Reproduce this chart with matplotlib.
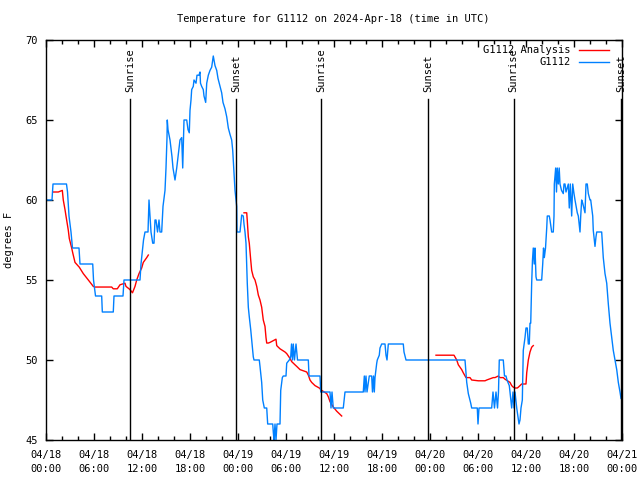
import datetime as dt
import matplotlib
matplotlib.use("Agg")
import matplotlib.pyplot as plt
import matplotlib.dates as mdates

plt.rcParams['font.family'] = ['DejaVu Sans Mono']
plt.rcParams['font.size'] = 7.5

START = dt.datetime(2024, 4, 18, 0, 0)

# G1112 observations: hours after 04/18 00:00 UTC, degrees F
obs_hours = [
    0.0, 0.75, 0.875, 2.56, 2.69, 2.875, 3.125, 3.31, 4.125, 4.25, 5.84, 5.94,
    6.19, 6.96, 7.04, 8.41, 8.5, 9.625, 9.75, 11.75, 11.875, 12.19, 12.375, 12.75,
    12.875, 13.0, 13.125, 13.34, 13.5, 13.625, 13.75, 13.94, 14.125, 14.25, 14.46,
    14.625, 14.875, 15.0, 15.125, 15.16, 15.25, 15.5, 15.75, 15.875, 16.125, 16.34,
    16.5, 16.75, 16.96, 17.09, 17.25, 17.59, 17.75, 17.91, 18.0, 18.125, 18.21,
    18.41, 18.5, 18.75, 18.875, 19.125, 19.25, 19.31, 19.46, 19.66, 19.75, 19.96,
    20.09, 20.29, 20.5, 20.71, 20.91, 21.125, 21.34, 21.5, 21.75, 21.96, 22.125,
    22.375, 22.59, 22.79, 23.0, 23.21, 23.34, 23.5, 23.625, 23.84, 23.875, 24.25,
    24.46, 24.66, 24.75, 24.875, 25.0, 25.16, 25.29, 25.41, 25.59, 25.71, 25.91,
    26.0, 26.66, 26.75, 26.96, 27.09, 27.29, 27.59, 27.71, 28.34, 28.41, 28.5,
    28.625, 28.75, 28.875, 29.25, 29.34, 29.54, 29.66, 30.0, 30.09, 30.41, 30.59,
    30.69, 30.81, 30.91, 31.06, 31.25, 31.44, 32.79, 32.875, 34.25, 34.34, 35.5,
    35.625, 35.75, 35.91, 37.16, 37.375, 39.66, 39.79, 39.875, 40.0, 40.125, 40.41,
    40.71, 40.81, 40.94, 41.04, 41.125, 41.34, 41.41, 41.66, 41.75, 41.96, 42.375,
    42.5, 42.625, 42.79, 44.66, 44.75, 45.0, 52.375, 52.59, 52.79, 53.09, 53.21,
    53.91, 54.0, 54.125, 55.71, 55.875, 56.06, 56.25, 56.44, 56.56, 56.66, 57.16,
    57.31, 57.5, 57.625, 57.91, 58.0, 58.21, 58.375, 58.5, 58.625, 58.84, 58.91,
    59.125, 59.25, 59.375, 59.54, 59.66, 59.875, 60.0, 60.16, 60.29, 60.41, 60.5,
    60.59, 60.71, 60.81, 60.91, 61.03, 61.125, 61.25, 61.34, 61.96, 62.09, 62.19,
    62.29, 62.44, 62.59, 62.66, 62.91, 63.0, 63.21, 63.41, 63.5, 63.54, 63.71,
    63.81, 63.91, 64.04, 64.15, 64.25, 64.44, 64.66, 64.75, 64.875, 65.0, 65.29,
    65.41, 65.54, 65.71, 65.84, 66.0, 66.125, 66.41, 66.54, 66.75, 66.84, 66.96,
    67.09, 67.375, 67.5, 67.66, 67.79, 68.0, 68.09, 68.34, 68.41, 68.625, 68.75,
    68.84, 69.46, 69.66, 69.875, 70.09, 70.29, 70.5, 70.71, 70.91, 71.125, 71.34,
    71.54, 71.75, 71.875,
]
obs_temps = [
    60, 60, 61, 61, 60.5, 59, 58, 57, 57, 56, 56, 55,
    54, 54, 53, 53, 54, 54, 55, 55, 56, 57.5, 58, 58,
    60, 59, 58, 57.3, 57.3, 58.75, 58.75, 58.0, 58.75, 58, 58,
    59.6, 60.6, 62, 63.9, 65, 64.4, 63.75, 62.7, 62, 61.25, 62,
    62.7, 63.75, 63.9, 62, 65, 65, 64.4, 64.2, 65.6, 66.25, 66.9,
    67.1, 67.5, 67.3, 67.8, 67.8, 68.0, 67.3, 67.1, 66.9, 66.5, 66.1,
    67.3, 67.8, 68.1, 68.3, 69.0, 68.4, 68.1, 67.6, 67.1, 66.7, 66.1,
    65.7, 65.2, 64.5, 64.1, 63.75, 63.1, 61.7, 60.6, 59.6, 58.0, 58.0,
    59.06, 59.0, 58.5, 58.0, 57.3, 54.8, 53.3, 52.7, 51.9, 51.25, 50.2,
    50, 50, 49.6, 48.6, 47.5, 47.0, 47.0, 46.0, 46.0, 45.5, 45.0,
    46, 45.0, 46, 46, 48.1, 48.9, 49, 49, 49.8, 50, 50.2,
    51, 50, 51, 50, 51, 50, 50, 49, 49, 48, 48,
    47, 48, 47, 47, 48, 48, 49, 48, 49, 48, 49,
    49, 48, 49, 48, 48.9, 49.8, 50, 50.3, 50.75, 51, 51,
    50.3, 50, 51, 51, 50.5, 50, 50, 48.6, 47.9, 47.3, 47,
    47, 46, 47, 47, 48, 47, 48, 47, 48, 50, 50,
    49, 49, 48.75, 48.4, 48, 47, 48, 47, 48, 47, 46.75,
    46, 46.25, 47, 47.5, 50.6, 51.4, 52, 52, 51, 51, 52.3,
    52.3, 54.8, 56.25, 57, 56, 57, 55.2, 55, 55, 56, 57,
    56.4, 57, 58.25, 59, 59, 58.75, 58, 58, 59, 61, 62,
    60.5, 62, 61, 62, 61, 60.6, 60.4, 61, 61, 60.5, 61,
    59.5, 61, 59, 61, 60.4, 60, 59.2, 59, 58, 59, 60,
    59.8, 59.2, 61, 61, 60.4, 60, 60, 59, 58.1, 57.1, 57.7,
    58, 58, 56.4, 55.4, 54.8, 53.5, 52.3, 51.4, 50.6, 50, 49.4,
    48.6, 48.0, 47.6,
]

# G1112 Analysis, three separate runs
ana1_hours = [0.84, 1.54, 2.04, 2.16, 2.375, 2.5, 2.79, 2.91, 3.21, 3.34, 3.625,
              4.16, 4.66, 5.29, 5.91, 6.125, 8.21, 8.41, 8.91, 9.25, 9.875, 10.0,
              10.5, 10.81, 11.125, 11.34, 11.625, 11.96, 12.16, 12.59, 12.79]
ana1_temps = [60.5, 60.5, 60.6, 60, 59.4, 59, 58.1, 57.6, 57, 56.7, 56.1,
              55.8, 55.4, 55.0, 54.6, 54.56, 54.56, 54.45, 54.45, 54.7, 54.8, 54.6,
              54.4, 54.2, 54.6, 55, 55.4, 55.75, 56.1, 56.4, 56.56]
ana2_hours = [24.75, 25.09, 25.16, 25.29, 25.41, 25.59, 25.71, 25.91, 26.125, 26.34,
              26.54, 26.75, 26.96, 27.16, 27.375, 27.5, 27.59, 27.79, 28.0, 28.375,
              28.75, 28.84, 29.04, 29.25, 29.875, 30.09, 30.5, 30.71, 31.125, 31.34,
              31.75, 32.59, 32.79, 33.0, 33.21, 33.625, 34.16, 34.46, 35.09, 35.29,
              35.5, 35.91, 36.34, 36.96]
ana2_temps = [59.2, 59.2, 58.7, 57.7, 57.3, 56.25, 55.6, 55.2, 55, 54.6,
              54.06, 53.75, 53.3, 52.5, 52.1, 51.4, 51.06, 51.06, 51.1, 51.2,
              51.3, 50.9, 50.8, 50.7, 50.5, 50.4, 50.1, 49.9, 49.7, 49.6,
              49.4, 49.25, 49.06, 48.75, 48.6, 48.4, 48.25, 48.1, 47.9, 47.7,
              47.4, 47.06, 46.8, 46.5]
ana3_hours = [48.75, 51.0, 51.34, 51.54, 51.96, 52.16, 52.5, 53.0, 53.21, 54.04,
              54.875, 55.09, 55.91, 56.125, 56.54, 56.75, 57.16, 57.375, 58.0, 58.21,
              58.41, 58.625, 58.91, 59.04, 59.46, 60.0, 60.09, 60.29, 60.5, 60.71,
              60.91]
ana3_temps = [50.3, 50.3, 50.0, 49.7, 49.4, 49.2, 48.9, 48.9, 48.75, 48.7,
              48.7, 48.75, 48.9, 48.9, 49.0, 48.9, 48.9, 48.8, 48.6, 48.4,
              48.3, 48.25, 48.25, 48.3, 48.5, 48.5, 49.2, 50, 50.5, 50.8,
              50.9]

sun_labels = ['Sunrise', 'Sunset', 'Sunrise', 'Sunset', 'Sunrise', 'Sunset']
sun_hours = [10.5, 23.8, 34.375, 47.8, 58.44, 71.875]


def to_time(hours):
    return [START + dt.timedelta(hours=h) for h in hours]


fig = plt.figure(figsize=(6.4, 4.8), dpi=100)
ax = fig.add_axes([46 / 640, 40 / 480, 576 / 640, 400 / 480])

BLUE = '#0080ff'
RED = '#ff0000'

ax.plot(to_time(ana1_hours), ana1_temps, color=RED, lw=1, label='G1112 Analysis')
ax.plot(to_time(ana2_hours), ana2_temps, color=RED, lw=1)
ax.plot(to_time(ana3_hours), ana3_temps, color=RED, lw=1)
ax.plot(to_time(obs_hours), obs_temps, color=BLUE, lw=1, label='G1112')

for name, h in zip(sun_labels, sun_hours):
    t = START + dt.timedelta(hours=h)
    ax.plot([t, t], [45, 66.3], color='black', lw=1)
    ax.text(t, 66.75, name, rotation=90, ha='center', va='bottom')

ax.set_xlim(START, START + dt.timedelta(hours=72))
ax.set_ylim(45, 70)
ax.set_yticks(range(45, 71, 5))

ax.xaxis.set_major_locator(mdates.HourLocator(byhour=range(0, 24, 6)))
ax.xaxis.set_minor_locator(mdates.HourLocator(byhour=range(0, 24, 2)))
ax.xaxis.set_major_formatter(mdates.DateFormatter('%m/%d\n%H:%M'))

ax.tick_params(which='both', direction='in', top=True, right=True, width=1)
ax.tick_params(which='major', length=5)
ax.tick_params(which='minor', length=3)
ax.tick_params(axis='x', which='major', pad=7)
ax.tick_params(axis='y', pad=6)
for lbl in ax.get_xticklabels():
    lbl.set_linespacing(1.5)
for sp in ax.spines.values():
    sp.set_linewidth(1)

ax.set_ylabel('degrees F', labelpad=8)
fig.text(0.52, 0.96, 'Temperature for G1112 on 2024-Apr-18 (time in UTC)',
         ha='center', va='center')

ax.legend(loc='upper right', bbox_to_anchor=(0.99, 1.005), frameon=False,
          markerfirst=False, handlelength=2.9, handletextpad=0.8,
          labelspacing=0.2, borderpad=0.2)

fig.savefig('out.png', dpi=100)
